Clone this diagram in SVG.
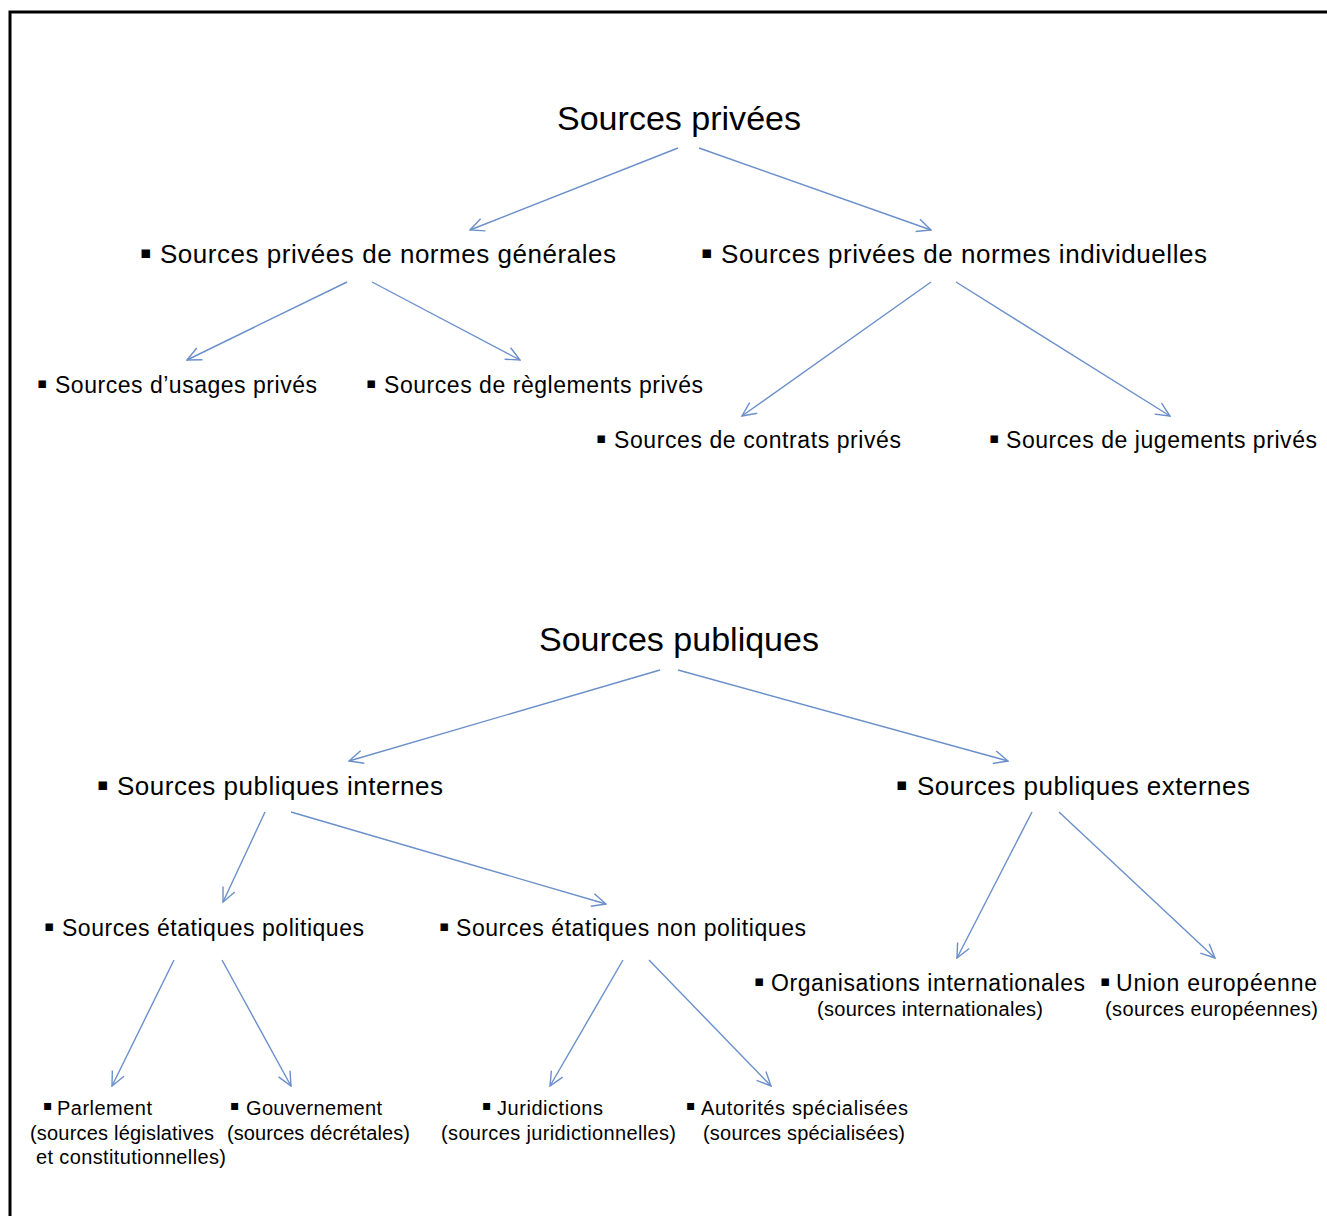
<svg xmlns="http://www.w3.org/2000/svg" width="1327" height="1216" viewBox="0 0 1327 1216">
<style>
text{font-family:"Liberation Sans",Arial,"DejaVu Sans",sans-serif;fill:#000}
.t0{font-size:34px}
.t1{font-size:26px}
.t2{font-size:23px}
.t3{font-size:20px}
.b{font-family:"DejaVu Sans",sans-serif}
.b1{font-size:17px}
.b2{font-size:15px}
.b3{font-size:14px}
.c line{stroke:#6a8fca;stroke-width:1.4;fill:none;marker-end:url(#ah)}
</style>
<defs>
<marker id="ah" markerUnits="userSpaceOnUse" markerWidth="16" markerHeight="16" viewBox="0 0 16 16" refX="15" refY="8" orient="auto">
<path d="M1,1.5 L15,8 L1,14.5" fill="none" stroke="#6a8fca" stroke-width="1.4"/>
</marker>
</defs>
<rect width="1327" height="1216" fill="#fff"/>
<rect x="10" y="12" width="1330" height="1230" fill="none" stroke="#000" stroke-width="3"/>

<g class="c" id="connectors">
<line x1="678" y1="148" x2="470" y2="230"/>
<line x1="699" y1="148" x2="931" y2="230"/>
<line x1="347" y1="282" x2="187" y2="360"/>
<line x1="372" y1="282" x2="520" y2="360"/>
<line x1="931" y1="282" x2="742" y2="416"/>
<line x1="956" y1="282" x2="1170" y2="416"/>
<line x1="660" y1="670" x2="349" y2="761"/>
<line x1="678" y1="670" x2="1008" y2="761"/>
<line x1="265" y1="812" x2="223" y2="902"/>
<line x1="291" y1="812" x2="606" y2="904"/>
<line x1="1032" y1="812" x2="957" y2="958"/>
<line x1="1059" y1="812" x2="1215" y2="958"/>
<line x1="174" y1="960" x2="112" y2="1086"/>
<line x1="222" y1="960" x2="291" y2="1086"/>
<line x1="623" y1="960" x2="550" y2="1086"/>
<line x1="649" y1="960" x2="771" y2="1086"/>
</g>

<g id="n-privees"><text class="t0" x="557" y="130" textLength="244" lengthAdjust="spacingAndGlyphs">Sources privées</text></g>
<g id="n-gen"><text class="t1" y="263"><tspan class="b b1" x="140" dy="-5">▪</tspan><tspan x="160" dy="5" textLength="456">Sources privées de normes générales</tspan></text></g>
<g id="n-ind"><text class="t1" y="263"><tspan class="b b1" x="701" dy="-5">▪</tspan><tspan x="721" dy="5" textLength="486">Sources privées de normes individuelles</tspan></text></g>
<g id="n-usages"><text class="t2" y="393"><tspan class="b b2" x="37" dy="-5">▪</tspan><tspan x="55" dy="5" textLength="262">Sources d’usages privés</tspan></text></g>
<g id="n-reglements"><text class="t2" y="393"><tspan class="b b2" x="366" dy="-5">▪</tspan><tspan x="384" dy="5" textLength="319">Sources de règlements privés</tspan></text></g>
<g id="n-contrats"><text class="t2" y="448"><tspan class="b b2" x="596" dy="-5">▪</tspan><tspan x="614" dy="5" textLength="287">Sources de contrats privés</tspan></text></g>
<g id="n-jugements"><text class="t2" y="448"><tspan class="b b2" x="989" dy="-5">▪</tspan><tspan x="1006" dy="5" textLength="311">Sources de jugements privés</tspan></text></g>

<g id="n-publiques"><text class="t0" x="539" y="651" textLength="280" lengthAdjust="spacingAndGlyphs">Sources publiques</text></g>
<g id="n-internes"><text class="t1" y="795"><tspan class="b b1" x="97" dy="-5">▪</tspan><tspan x="117" dy="5" textLength="326">Sources publiques internes</tspan></text></g>
<g id="n-externes"><text class="t1" y="795"><tspan class="b b1" x="896" dy="-5">▪</tspan><tspan x="917" dy="5" textLength="333">Sources publiques externes</tspan></text></g>
<g id="n-pol"><text class="t2" y="936"><tspan class="b b2" x="44" dy="-5">▪</tspan><tspan x="62" dy="5" textLength="302">Sources étatiques politiques</tspan></text></g>
<g id="n-nonpol"><text class="t2" y="936"><tspan class="b b2" x="439" dy="-5">▪</tspan><tspan x="456" dy="5" textLength="350">Sources étatiques non politiques</tspan></text></g>
<g id="n-org"><text class="t2" y="991"><tspan class="b b2" x="754" dy="-5">▪</tspan><tspan x="771" dy="5" textLength="314">Organisations internationales</tspan></text>
<text class="t3" x="817" y="1016" textLength="226">(sources internationales)</text></g>
<g id="n-ue"><text class="t2" y="991"><tspan class="b b2" x="1100" dy="-5">▪</tspan><tspan x="1116" dy="5" textLength="201">Union européenne</tspan></text>
<text class="t3" x="1105" y="1016" textLength="213">(sources européennes)</text></g>
<g id="n-parlement"><text class="t3" y="1115"><tspan class="b b3" x="43" dy="-5">▪</tspan><tspan x="57" dy="5" textLength="95">Parlement</tspan></text>
<text class="t3" x="30" y="1140" textLength="184">(sources législatives</text>
<text class="t3" x="36" y="1164" textLength="190">et constitutionnelles)</text></g>
<g id="n-gouv"><text class="t3" y="1115"><tspan class="b b3" x="230" dy="-5">▪</tspan><tspan x="246" dy="5" textLength="136">Gouvernement</tspan></text>
<text class="t3" x="227" y="1140" textLength="183">(sources décrétales)</text></g>
<g id="n-jur"><text class="t3" y="1115"><tspan class="b b3" x="482" dy="-5">▪</tspan><tspan x="497" dy="5" textLength="106">Juridictions</tspan></text>
<text class="t3" x="441" y="1140" textLength="235">(sources juridictionnelles)</text></g>
<g id="n-aut"><text class="t3" y="1115"><tspan class="b b3" x="686" dy="-5">▪</tspan><tspan x="701" dy="5" textLength="207">Autorités spécialisées</tspan></text>
<text class="t3" x="703" y="1140" textLength="202">(sources spécialisées)</text></g>
</svg>
